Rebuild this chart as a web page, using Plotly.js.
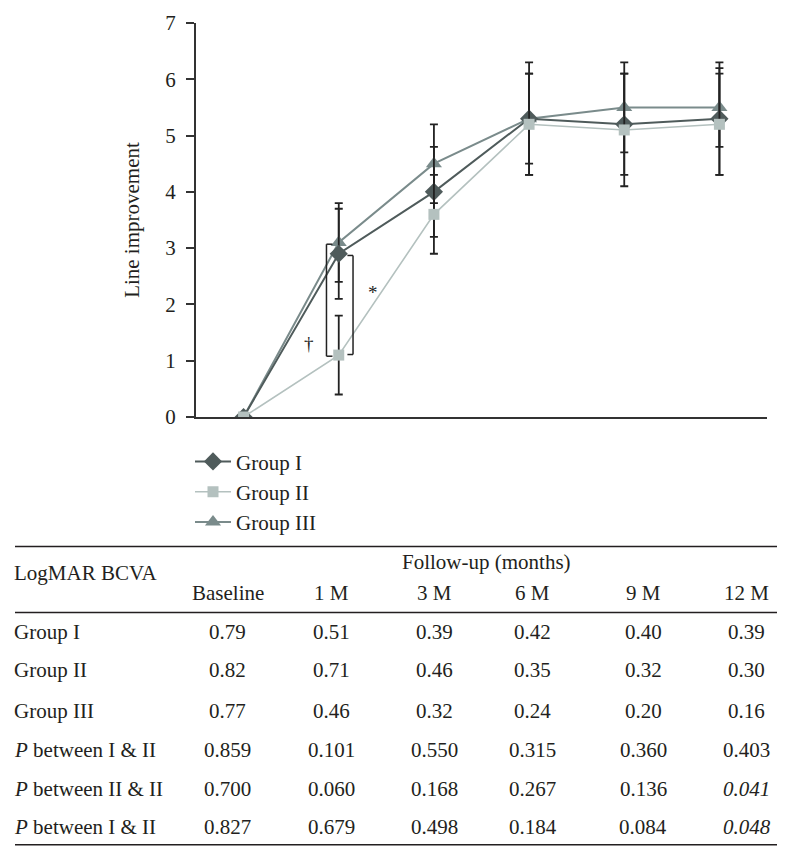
<!DOCTYPE html>
<html>
<head>
<meta charset="utf-8">
<script src="https://cdn.plot.ly/plotly-3.0.1.min.js"></script>
<style>html,body{margin:0;padding:0;background:#fff;}</style>
</head>
<body>
<div id="chart" style="width:791px;height:860px;"></div>
<script>
// ---- Data ----
var categories = ["Baseline", "1 M", "3 M", "6 M", "9 M", "12 M"];
var groupNames = ["Group I", "Group II", "Group III"];
var group1 = [0, 2.9, 4.0, 5.3, 5.2, 5.3];
var group2 = [0, 1.1, 3.6, 5.2, 5.1, 5.2];
var group3 = [0, 3.1, 4.5, 5.3, 5.5, 5.5];
var group1Err = [0, 0.8, 0.8, 1.0, 0.9, 1.0];
var group2Err = [0, 0.7, 0.7, 0.9, 1.0, 0.9];
var group3Err = [0, 0.7, 0.7, 0.8, 0.8, 0.7];
var yTicks = [0, 1, 2, 3, 4, 5, 6, 7];

// table
var tableTitle = "LogMAR BCVA";
var tableGroupHeader = "Follow-up (months)";
var tableColumns = ["Baseline", "1 M", "3 M", "6 M", "9 M", "12 M"];
var tableRowLabels = ["Group I", "Group II", "Group III",
  "<i>P</i> between I &amp; II", "<i>P</i> between II &amp; II", "<i>P</i> between I &amp; II"];
var rowGroup1 = ["0.79", "0.51", "0.39", "0.42", "0.40", "0.39"];
var rowGroup2 = ["0.82", "0.71", "0.46", "0.35", "0.32", "0.30"];
var rowGroup3 = ["0.77", "0.46", "0.32", "0.24", "0.20", "0.16"];
var rowP12 = ["0.859", "0.101", "0.550", "0.315", "0.360", "0.403"];
var rowP23 = ["0.700", "0.060", "0.168", "0.267", "0.136", "0.041"];
var rowP13 = ["0.827", "0.679", "0.498", "0.184", "0.084", "0.048"];

// ---- Layout geometry (pixels) ----
var FONT = "Liberation Serif, Times New Roman, serif";
var FS = 21;
var TXT = "#231f20";
var L = 196, R = 767, T = 23, B = 416.7;
var W = 791, H = 860;
function px(x) { return (x - L) / (R - L); }
function py(y) { return (B - y) / (B - T); }

var colors = ["#4f5b5b", "#b4c1bf", "#7a8b8b"];

function trace(name, y, err, color, symbol, size, lw) {
  return {
    type: "scatter", mode: "lines+markers", name: name,
    x: categories, y: y,
    line: {color: color, width: lw},
    marker: {color: color, symbol: symbol, size: size},
    error_y: {type: "data", array: err, visible: true, color: "#222", thickness: 1.8, width: 4}
  };
}

var t1 = trace(groupNames[0], group1, group1Err, colors[0], "diamond", 14, 2);
var t2 = trace(groupNames[1], group2, group2Err, colors[1], "square", 11, 1.6);
var t3 = trace(groupNames[2], group3, group3Err, colors[2], "triangle-up", 14, 2);
t1.legendrank = 1; t2.legendrank = 2; t3.legendrank = 3;
var data = [t3, t1, t2];

var annotations = [];
var shapes = [];

// significance brackets near 1 M
var bx = 1;
var bl = {color: "#222", width: 1.5};
shapes.push({type: "line", xref: "x", yref: "y", x0: bx - 0.129, x1: bx - 0.129, y0: 1.08, y1: 3.07, line: bl});
shapes.push({type: "line", xref: "x", yref: "y", x0: bx - 0.129, x1: bx - 0.066, y0: 3.07, y1: 3.07, line: bl});
shapes.push({type: "line", xref: "x", yref: "y", x0: bx - 0.129, x1: bx - 0.066, y0: 1.08, y1: 1.08, line: bl});
shapes.push({type: "line", xref: "x", yref: "y", x0: bx + 0.150, x1: bx + 0.150, y0: 1.11, y1: 2.87, line: bl});
shapes.push({type: "line", xref: "x", yref: "y", x0: bx + 0.091, x1: bx + 0.150, y0: 2.87, y1: 2.87, line: bl});
shapes.push({type: "line", xref: "x", yref: "y", x0: bx + 0.091, x1: bx + 0.150, y0: 1.11, y1: 1.11, line: bl});
annotations.push({xref: "x", yref: "y", x: bx - 0.312, y: 1.3, text: "†", showarrow: false, font: {family: FONT, size: 19, color: "#222"}});
annotations.push({xref: "x", yref: "y", x: bx + 0.364, y: 2.22, text: "*", showarrow: false, font: {family: FONT, size: 19, color: "#222"}});

// ---- Table ----
var ruleX0 = 15, ruleX1 = 777;
[546, 612, 844].forEach(function (yy) {
  shapes.push({type: "line", xref: "paper", yref: "paper", x0: px(ruleX0), x1: px(ruleX1), y0: py(yy), y1: py(yy), line: {color: "#231f20", width: 1.5}});
});
var colX = [227.7, 331.7, 434, 532.7, 643.3, 746.7];
var headerY = 593;
var rowY = [631.7, 670, 710, 749.3, 788.3, 826];
var tfont = {family: FONT, size: FS, color: TXT};
var leftX = 12;

annotations.push({xref: "paper", yref: "paper", x: px(leftX), y: py(573), xanchor: "left", yanchor: "middle", text: tableTitle, showarrow: false, font: tfont});
annotations.push({xref: "paper", yref: "paper", x: px(486.5), y: py(561.5), xanchor: "center", yanchor: "middle", text: tableGroupHeader, showarrow: false, font: tfont});
tableColumns.forEach(function (c, i) {
  annotations.push({xref: "paper", yref: "paper", x: px(colX[i]), y: py(headerY), xanchor: "center", yanchor: "middle", text: c, showarrow: false, font: tfont});
});
var rows = [rowGroup1, rowGroup2, rowGroup3, rowP12, rowP23, rowP13];
rows.forEach(function (row, r) {
  annotations.push({xref: "paper", yref: "paper", x: px(leftX), y: py(rowY[r]), xanchor: "left", yanchor: "middle", text: tableRowLabels[r], showarrow: false, font: tfont});
  row.forEach(function (v, i) {
    var isP = r >= 3;
    var txt = (isP && parseFloat(v) < 0.05) ? "<i>" + v + "</i>" : v;
    annotations.push({xref: "paper", yref: "paper", x: px(colX[i]), y: py(rowY[r]), xanchor: "center", yanchor: "middle", text: txt, showarrow: false, font: tfont});
  });
});

var layout = {
  width: W, height: H,
  margin: {l: L, r: W - R, t: T, b: H - B, pad: 0},
  paper_bgcolor: "#fff", plot_bgcolor: "#fff",
  font: {family: FONT, size: FS, color: TXT},
  showlegend: true,
  legend: {x: px(190), y: py(441), xanchor: "left", yanchor: "top", font: {family: FONT, size: FS, color: TXT}, bgcolor: "rgba(0,0,0,0)", itemwidth: 36, tracegroupgap: 0, traceorder: "normal"},
  xaxis: {type: "category", range: [-0.5, 5.5], showticklabels: false, ticks: "", showgrid: false, zeroline: false, showline: true, linecolor: "#333", linewidth: 2, fixedrange: true},
  yaxis: {range: [0, 7], tickvals: yTicks, ticktext: yTicks.map(String), ticks: "outside", ticklen: 8, tickwidth: 2, tickcolor: "#333", showgrid: false, zeroline: false, showline: true, linecolor: "#333", linewidth: 2, ticklabelstandoff: 6,
    tickfont: {family: FONT, size: FS, color: TXT},
    title: {text: "Line improvement", font: {family: FONT, size: FS, color: TXT}, standoff: 20}, fixedrange: true},
  shapes: shapes,
  annotations: annotations
};

Plotly.newPlot("chart", data, layout, {staticPlot: true, displayModeBar: false});
</script>
</body>
</html>
